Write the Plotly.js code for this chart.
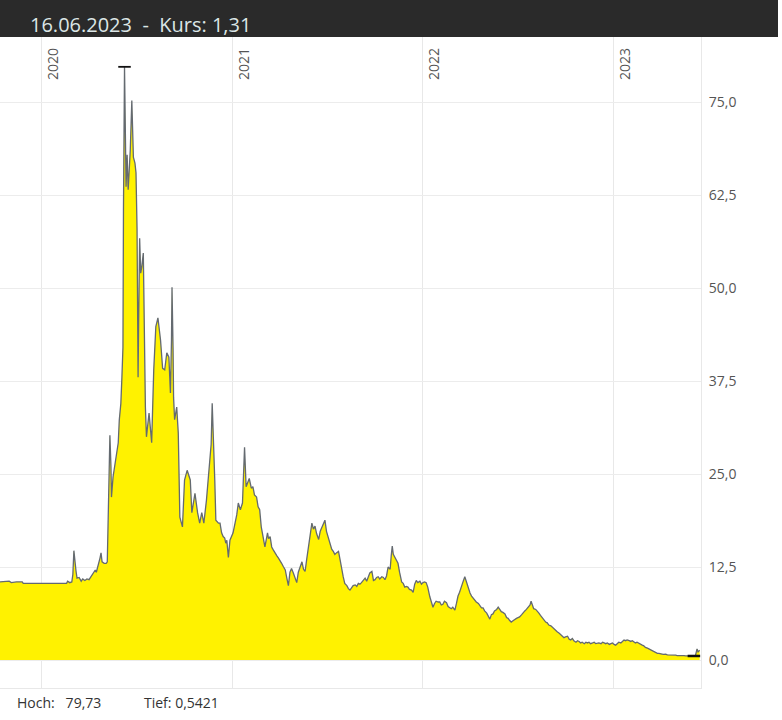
<!DOCTYPE html>
<html>
<head>
<meta charset="utf-8">
<script src="https://cdn.plot.ly/plotly-3.0.1.min.js"></script>
<style>html,body{margin:0;padding:0;background:#fff;}#chart{width:782px;height:720px;}</style>
</head>
<body>
<div id="chart"></div>
<script>
// ---- data ----
const headerDate = '16.06.2023';
const headerPrice = '1,31';
const yearTickVals = ['2020-01-01', '2021-01-01', '2022-01-01', '2023-01-01'];
const yearTickText = ['2020', '2021', '2022', '2023'];

const dates2019_20 = ['2019-10-14','2019-10-25','2019-11-01','2019-11-05','2019-11-15','2019-11-26','2019-11-28','2019-12-15','2020-01-01','2020-01-20','2020-02-06','2020-02-19','2020-02-21','2020-02-25','2020-02-29','2020-03-02','2020-03-04','2020-03-06','2020-03-08','2020-03-10','2020-03-14','2020-03-18','2020-03-21','2020-03-25','2020-03-29','2020-04-02','2020-04-06','2020-04-10','2020-04-14','2020-04-16','2020-04-19','2020-04-23','2020-04-25','2020-04-27','2020-05-01','2020-05-05','2020-05-07','2020-05-10','2020-05-12','2020-05-14','2020-05-15','2020-05-18','2020-05-21','2020-05-25','2020-05-28','2020-05-30','2020-06-02','2020-06-04','2020-06-06','2020-06-07','2020-06-09','2020-06-12','2020-06-14','2020-06-16','2020-06-18','2020-06-20','2020-06-23','2020-06-26','2020-06-29','2020-07-01','2020-07-03','2020-07-05','2020-07-06','2020-07-08','2020-07-10','2020-07-12','2020-07-15','2020-07-17','2020-07-19','2020-07-21','2020-07-26','2020-07-31','2020-08-04','2020-08-08','2020-08-12','2020-08-17','2020-08-21','2020-08-25','2020-08-29','2020-09-02','2020-09-05','2020-09-07','2020-09-08','2020-09-10','2020-09-11','2020-09-13','2020-09-17','2020-09-20','2020-09-22','2020-09-23','2020-09-28','2020-10-02','2020-10-07','2020-10-13','2020-10-16','2020-10-22','2020-10-27','2020-10-31','2020-11-04','2020-11-08','2020-11-13','2020-11-18','2020-11-22','2020-11-24','2020-11-27','2020-11-29','2020-12-01','2020-12-06','2020-12-09','2020-12-12','2020-12-15','2020-12-18','2020-12-20','2020-12-22','2020-12-25','2020-12-28'];
const values2019_20 = [10.5,10.5,10.6,10.4,10.5,10.5,10.3,10.3,10.3,10.3,10.3,10.3,10.6,10.4,10.5,11.5,14.7,13.0,12.0,11.0,11.1,10.6,10.9,10.7,10.9,10.8,11.2,11.6,12.1,11.8,12.5,13.7,14.4,13.2,13.0,13.0,13.2,22.0,30.2,26.0,21.9,24.6,26.0,28.2,29.2,32.3,34.5,38.0,42.0,60.5,79.73,63.6,67.9,63.2,65.9,68.5,75.2,67.6,66.8,65.5,58.0,38.0,45.0,56.7,52.0,52.8,54.7,42.0,34.0,30.0,33.2,29.2,39.0,44.8,46.0,43.0,39.2,39.0,41.3,40.7,35.9,43.0,50.1,42.0,35.3,32.3,34.0,30.5,24.0,19.2,17.9,24.2,25.5,24.2,19.8,22.4,19.8,18.4,19.8,18.4,21.5,25.5,29.0,34.5,29.6,24.0,18.8,18.4,18.4,17.1,16.6,16.4,15.7,16.1,13.8,16.1];

const dates2021 = ['2021-01-03','2021-01-10','2021-01-13','2021-01-17','2021-01-21','2021-01-23','2021-01-25','2021-01-28','2021-02-01','2021-02-03','2021-02-07','2021-02-10','2021-02-13','2021-02-17','2021-02-20','2021-02-23','2021-02-26','2021-03-02','2021-03-05','2021-03-10','2021-03-12','2021-03-15','2021-03-18','2021-03-21','2021-03-24','2021-03-28','2021-03-31','2021-04-03','2021-04-06','2021-04-09','2021-04-13','2021-04-16','2021-04-19','2021-04-22','2021-04-25','2021-04-29','2021-05-02','2021-05-05','2021-05-08','2021-05-11','2021-05-15','2021-05-18','2021-05-21','2021-05-24','2021-05-27','2021-05-31','2021-06-03','2021-06-06','2021-06-09','2021-06-12','2021-06-16','2021-06-19','2021-06-22','2021-06-25','2021-06-28','2021-07-01','2021-07-04','2021-07-08','2021-07-11','2021-07-14','2021-07-17','2021-07-20','2021-07-24','2021-07-27','2021-07-30','2021-08-02','2021-08-05','2021-08-09','2021-08-12','2021-08-15','2021-08-18','2021-08-21','2021-08-25','2021-08-28','2021-08-31','2021-09-03','2021-09-06','2021-09-10','2021-09-13','2021-09-16','2021-09-19','2021-09-22','2021-09-26','2021-09-29','2021-10-02','2021-10-05','2021-10-08','2021-10-11','2021-10-15','2021-10-18','2021-10-21','2021-10-24','2021-10-27','2021-10-31','2021-11-02','2021-11-04','2021-11-06','2021-11-09','2021-11-12','2021-11-15','2021-11-18','2021-11-22','2021-11-25','2021-11-28','2021-12-01','2021-12-04','2021-12-07','2021-12-11','2021-12-14','2021-12-17','2021-12-20','2021-12-23','2021-12-27','2021-12-30'];
const values2021 = [17.1,19.5,21.1,20.2,21.1,24.0,28.6,23.3,24.2,24.4,23.1,23.3,22.2,21.9,20.6,20.2,17.9,16.4,15.2,17.1,16.3,16.6,15.2,14.8,14.4,14.0,13.7,13.4,13.0,12.6,12.1,11.0,10.0,11.8,12.3,11.6,11.0,10.4,11.8,12.3,13.2,12.2,11.9,13.5,15.2,17.4,18.4,17.6,18.0,17.0,16.2,17.3,17.8,18.5,18.8,17.3,16.5,15.5,14.9,14.6,14.2,14.4,14.6,13.5,12.0,11.2,10.3,10.0,9.6,9.4,9.7,10.0,10.1,9.9,10.3,10.2,10.4,10.8,11.0,10.6,11.2,11.7,11.9,10.7,10.8,11.1,11.2,10.9,11.2,11.1,10.8,11.3,12.5,12.2,14.0,15.3,14.2,13.8,13.2,13.0,11.8,10.5,10.3,9.8,9.9,9.8,9.5,9.4,9.1,10.2,10.7,10.4,10.6,10.2];

const dates2022 = ['2022-01-02','2022-01-05','2022-01-08','2022-01-11','2022-01-15','2022-01-18','2022-01-21','2022-01-24','2022-01-27','2022-01-31','2022-02-03','2022-02-06','2022-02-09','2022-02-12','2022-02-16','2022-02-19','2022-02-22','2022-02-25','2022-02-28','2022-03-04','2022-03-07','2022-03-10','2022-03-13','2022-03-17','2022-03-20','2022-03-23','2022-03-26','2022-03-29','2022-04-02','2022-04-05','2022-04-08','2022-04-11','2022-04-14','2022-04-18','2022-04-21','2022-04-24','2022-04-27','2022-04-30','2022-05-04','2022-05-07','2022-05-10','2022-05-13','2022-05-16','2022-05-19','2022-05-23','2022-05-26','2022-05-29','2022-06-01','2022-06-04','2022-06-08','2022-06-11','2022-06-14','2022-06-17','2022-06-20','2022-06-24','2022-06-27','2022-06-30','2022-07-03','2022-07-06','2022-07-10','2022-07-13','2022-07-16','2022-07-19','2022-07-22','2022-07-26','2022-07-28','2022-07-31','2022-08-02','2022-08-06','2022-08-09','2022-08-12','2022-08-15','2022-08-18','2022-08-22','2022-08-25','2022-08-28','2022-08-31','2022-09-04','2022-09-07','2022-09-10','2022-09-13','2022-09-16','2022-09-20','2022-09-23','2022-09-26','2022-09-29','2022-10-02','2022-10-06','2022-10-09','2022-10-12','2022-10-15','2022-10-18','2022-10-22','2022-10-25','2022-10-28','2022-10-31','2022-11-03','2022-11-07','2022-11-10','2022-11-13','2022-11-16','2022-11-19','2022-11-23','2022-11-26','2022-11-29','2022-12-02','2022-12-05','2022-12-09','2022-12-12','2022-12-15','2022-12-18','2022-12-21','2022-12-25','2022-12-28','2022-12-31'];
const values2022 = [10.4,10.5,10.4,9.8,8.5,7.6,7.1,7.6,7.9,7.8,7.8,7.4,7.5,7.9,7.7,7.2,7.0,6.9,7.1,6.7,7.6,8.6,9.1,9.8,10.6,11.2,10.5,9.9,9.0,8.6,8.3,8.1,7.8,7.6,7.2,7.0,7.0,6.6,6.3,5.8,5.5,6.1,6.2,6.6,6.8,7.1,6.7,6.5,6.4,6.2,5.7,5.6,5.3,5.1,5.3,5.5,5.6,5.7,5.8,6.1,6.4,6.6,6.8,7.0,7.4,7.9,7.2,6.9,6.8,6.6,6.3,6.0,5.7,5.4,5.1,5.0,4.7,4.6,4.4,4.2,3.9,3.8,3.6,3.4,3.1,3.0,3.1,3.2,2.8,2.7,2.9,2.6,2.4,2.6,2.5,2.3,2.4,2.2,2.4,2.3,2.4,2.2,2.3,2.4,2.2,2.3,2.3,2.2,2.4,2.3,2.2,2.3,2.1,2.2,2.3];

const dates2023 = ['2023-01-03','2023-01-06','2023-01-09','2023-01-12','2023-01-16','2023-01-19','2023-01-22','2023-01-25','2023-01-28','2023-02-01','2023-02-04','2023-02-07','2023-02-10','2023-02-13','2023-02-16','2023-02-20','2023-02-23','2023-02-26','2023-03-01','2023-03-04','2023-03-08','2023-03-11','2023-03-14','2023-03-17','2023-03-20','2023-03-24','2023-03-27','2023-03-30','2023-04-02','2023-04-05','2023-04-08','2023-04-12','2023-04-15','2023-04-18','2023-04-21','2023-04-24','2023-04-28','2023-05-01','2023-05-04','2023-05-07','2023-05-10','2023-05-14','2023-05-17','2023-05-20','2023-05-23','2023-05-26','2023-05-30','2023-06-02','2023-06-05','2023-06-08','2023-06-11','2023-06-13','2023-06-16'];
const values2023 = [2.1,2.0,2.2,2.4,2.3,2.5,2.7,2.6,2.7,2.6,2.5,2.6,2.4,2.3,2.4,2.2,2.1,2.0,1.9,1.7,1.6,1.5,1.3,1.2,1.1,1.0,0.9,0.9,0.8,0.8,0.75,0.8,0.7,0.7,0.75,0.7,0.65,0.65,0.6,0.62,0.6,0.58,0.6,0.57,0.56,0.55,0.56,0.57,0.5421,0.62,1.5,1.1,1.31];

// ---- build ----
const dates = [].concat(dates2019_20, dates2021, dates2022, dates2023);
const values = [].concat(values2019_20, values2021, values2022, values2023);

function shiftDate(s, days) {
  const d = new Date(s + 'T00:00:00Z');
  d.setUTCDate(d.getUTCDate() + days);
  return d.toISOString().slice(0, 10);
}
let iMax = 0, iMin = 0;
values.forEach((v, i) => { if (v > values[iMax]) iMax = i; if (v < values[iMin]) iMin = i; });
const hoch = values[iMax], tief = values[iMin];
const fmt = v => String(v).replace('.', ',');

const FONT = 'Open Sans, Noto Sans, sans-serif';

const traces = [
  {
    type: 'scatter', mode: 'lines', x: dates, y: values,
    fill: 'tozeroy', fillcolor: '#fff200',
    line: { color: '#646a70', width: 1.3 },
    hoverinfo: 'skip'
  },
  {
    type: 'scatter', mode: 'lines',
    x: [shiftDate(dates[iMax], -12), shiftDate(dates[iMax], 12)], y: [hoch, hoch],
    line: { color: '#111', width: 1.8 }, hoverinfo: 'skip'
  },
  {
    type: 'scatter', mode: 'lines',
    x: [shiftDate(dates[iMin], -12), shiftDate(dates[iMin], 12)], y: [tief, tief],
    line: { color: '#111', width: 2.5 }, hoverinfo: 'skip'
  }
];

const layout = {
  width: 782, height: 720,
  margin: { l: 0, r: 81, t: 37, b: 32, pad: 0 },
  paper_bgcolor: '#ffffff', plot_bgcolor: '#ffffff',
  showlegend: false,
  separators: ',.',
  font: { family: FONT, color: '#555' },
  title: {
    text: headerDate + '\u00a0\u00a0-\u00a0\u00a0Kurs: ' + headerPrice,
    font: { family: FONT, size: 20, color: '#dce6e6' },
    xref: 'container', x: 30 / 782, xanchor: 'left',
    yref: 'container', y: 1 - 25 / 720, yanchor: 'middle'
  },
  xaxis: {
    type: 'date',
    range: ['2019-10-14 10:00', '2023-06-18 14:00'],
    side: 'top',
    tickmode: 'array', tickvals: yearTickVals, ticktext: yearTickText,
    ticklabelposition: 'inside', tickangle: -90,
    ticklabelshift: 12, ticklabelstandoff: 3,
    tickfont: { family: FONT, size: 14, color: '#555' },
    ticks: '',
    showgrid: true, gridcolor: '#e8e8e8', gridwidth: 1,
    showline: true, mirror: true, linecolor: '#e8e8e8', linewidth: 1,
    zeroline: false, fixedrange: true
  },
  yaxis: {
    side: 'right',
    range: [-3.76, 83.74],
    tick0: 0, dtick: 12.5, tickformat: '.1f',
    tickfont: { family: FONT, size: 14, color: '#555' },
    ticks: '', ticklabelstandoff: 4,
    showgrid: true, gridcolor: '#ececec', gridwidth: 1,
    showline: true, linecolor: '#e8e8e8', linewidth: 1,
    zeroline: false, fixedrange: true
  },
  shapes: [
    {
      type: 'rect', xref: 'paper', yref: 'paper',
      x0: 0, x1: 778 / 701, y0: 1, y1: 1 + 37 / 651,
      fillcolor: '#2a2a2a', line: { width: 0 }, layer: 'above'
    }
  ],
  annotations: [
    {
      xref: 'paper', yref: 'paper', x: 15 / 701, y: -14 / 651,
      xanchor: 'left', yanchor: 'middle', showarrow: false,
      text: 'Hoch:\u00a0\u00a0 ' + fmt(hoch),
      font: { family: FONT, size: 14, color: '#333' }
    },
    {
      xref: 'paper', yref: 'paper', x: 142 / 701, y: -14 / 651,
      xanchor: 'left', yanchor: 'middle', showarrow: false,
      text: 'Tief: ' + fmt(tief),
      font: { family: FONT, size: 14, color: '#333' }
    }
  ]
};

Plotly.newPlot('chart', traces, layout, { staticPlot: true, displayModeBar: false });
</script>
</body>
</html>
